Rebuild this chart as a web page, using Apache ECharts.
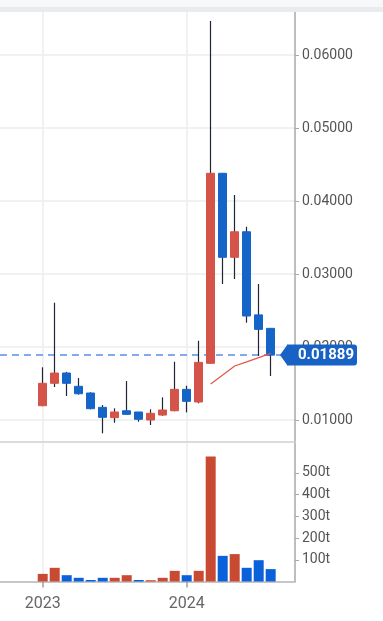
<!DOCTYPE html>
<html><head><meta charset="utf-8">
<script src="https://cdn.jsdelivr.net/npm/echarts@6/dist/echarts.min.js"></script>
<style>html,body{margin:0;padding:0;background:#fff}#c{width:383px;height:621px}</style>
</head><body><div id="c"></div>
<script>
// ---- data (monthly candles, Jan 2023 .. Aug 2024) ----
const months = ['2023-01','2023-02','2023-03','2023-04','2023-05','2023-06','2023-07','2023-08','2023-09','2023-10','2023-11','2023-12','2024-01','2024-02','2024-03','2024-04','2024-05','2024-06','2024-07','2024-08'];
const openV  = [0.01196,0.01503,0.01644,0.01462,0.01370,0.01174,0.01032,0.01127,0.01110,0.01000,0.01068,0.01127,0.01420,0.01247,0.01777,0.04380,0.03229,0.03579,0.02440,0.02256];
const closeV = [0.01503,0.01644,0.01503,0.01360,0.01155,0.01037,0.01110,0.01078,0.01010,0.01092,0.01137,0.01420,0.01256,0.01790,0.04380,0.03229,0.03579,0.02425,0.02242,0.01889];
const lowV   = [0.01190,0.01452,0.01329,0.01347,0.01147,0.00818,0.00963,0.01075,0.00977,0.00932,0.01059,0.01120,0.01105,0.01229,0.01770,0.02863,0.02932,0.02333,0.01877,0.01603];
const highV  = [0.01722,0.02607,0.01660,0.01575,0.01380,0.01205,0.01160,0.01534,0.01110,0.01147,0.01311,0.01799,0.01470,0.02086,0.06466,0.04380,0.04082,0.03648,0.02863,0.02256];
const maV    = [null,null,null,null,null,null,null,null,null,null,null,null,null,null,0.01493,0.01616,0.01740,0.01797,0.01855,0.01913];
const volume = [35,63,29,17,7,17,17,29,7,6,17,49,29,49,575,118,126,63,98,57]; // thousands (t)
const volUp  = [true,true,false,false,false,false,true,true,false,true,true,true,false,true,true,false,true,false,false,false];
const priceTicks = [0.01,0.02,0.03,0.04,0.05,0.06];
const volTicks = [100,200,300,400,500];
const yearLabels = ['2023','2024'];
const yearPos = [0,12]; // month index of January
const lastClose = 0.01889;

const RED='#d4544a', BLUE='#1565c8', VRED='#c94a32', VBLUE='#0b61d9', WICK='#1e2636';
const FONT='Roboto';
const xMin=-3.559, xMax=21.026;

const wickData = months.map((m,i)=>[i, openV[i], closeV[i], lowV[i], highV[i]]);
const bodyData = months.map((m,i)=>[i, openV[i], closeV[i], Math.min(openV[i],closeV[i]), Math.max(openV[i],closeV[i])]);
const maData = maV.map((v,i)=>v==null?null:[i,v]).filter(d=>d);
const volData = volume.map((v,i)=>({value:[i,v], itemStyle:{color: volUp[i]?VRED:VBLUE}}));
const lastLine = [[xMin,lastClose],[xMax,lastClose]];

const chart = echarts.init(document.getElementById('c'), null, {renderer:'canvas'});
const splitStyle = {color:'#ececec', width:1.5};
chart.setOption({
  animation:false,
  backgroundColor:'#ffffff',
  grid:[{left:0,right:88,top:12,height:430},{left:0,right:88,top:443,height:138.5}],
  xAxis:[
    {type:'value',gridIndex:0,min:xMin,max:xMax,
     axisLine:{show:true,onZero:false,lineStyle:{color:'#d0d0d0',width:1.5}},
     axisTick:{show:false,customValues:yearPos},axisLabel:{show:false},
     splitLine:{show:true,lineStyle:splitStyle}},
    {type:'value',gridIndex:1,min:xMin,max:xMax,
     axisLine:{show:true,onZero:false,lineStyle:{color:'#b5b5b5',width:1.5}},
     axisTick:{show:true,customValues:yearPos,length:6,lineStyle:{color:'#a0a0a0',width:1.5}},
     axisLabel:{customValues:yearPos,formatter:v=>yearLabels[yearPos.indexOf(v)]||'',fontSize:16,color:'#666',margin:14,fontFamily:FONT},
     splitLine:{show:true,lineStyle:splitStyle}}
  ],
  yAxis:[
    {type:'value',gridIndex:0,position:'right',min:0.00699,max:0.06589,
     axisLine:{show:true,onZero:false,lineStyle:{color:'#a8a8a8',width:1.5}},
     axisTick:{show:true,customValues:priceTicks,length:4,lineStyle:{color:'#a8a8a8'}},
     axisLabel:{customValues:priceTicks,formatter:v=>v.toFixed(5),fontSize:14,color:'#555',margin:7,fontFamily:FONT},
     splitLine:{show:true,lineStyle:splitStyle}},
    {type:'value',gridIndex:1,position:'right',min:0,max:637,
     axisLine:{show:true,onZero:false,lineStyle:{color:'#a8a8a8',width:1.5}},
     axisTick:{show:true,customValues:volTicks,length:4,lineStyle:{color:'#a8a8a8'}},
     axisLabel:{customValues:volTicks,formatter:v=>v+'t',fontSize:14,color:'#555',margin:7,fontFamily:FONT},
     splitLine:{show:false}}
  ],
  series:[
    {type:'line',name:'last',xAxisIndex:0,yAxisIndex:0,data:lastLine,showSymbol:false,silent:true,z:1,
     lineStyle:{color:'#5b8fe8',type:[7,5],width:1.5}},
    {type:'candlestick',name:'wick',xAxisIndex:0,yAxisIndex:0,data:wickData,encode:{x:0,y:[1,2,3,4]},
     barWidth:1.2,z:2,
     itemStyle:{color:WICK,color0:WICK,borderColor:WICK,borderColor0:WICK,borderWidth:1.2}},
    {type:'candlestick',name:'body',xAxisIndex:0,yAxisIndex:0,data:bodyData,encode:{x:0,y:[1,2,3,4]},
     barWidth:8,z:3,
     itemStyle:{color:RED,color0:BLUE,borderColor:RED,borderColor0:BLUE,borderWidth:1}},
    {type:'line',name:'MA',xAxisIndex:0,yAxisIndex:0,data:maData,showSymbol:false,z:4,
     lineStyle:{color:'#e0574a',width:1.2}},
    {type:'bar',name:'vol',xAxisIndex:1,yAxisIndex:1,data:volData,barWidth:10}
  ]
});

const cy = chart.convertToPixel({yAxisIndex:0}, lastClose);
const axX = chart.convertToPixel({xAxisIndex:0}, xMax);
const tipX = axX - 15;
const BADGE='#1862c6';
chart.setOption({graphic:[
  {type:'rect',shape:{x:0,y:0,width:383,height:7},style:{fill:'#f7f8fa'},z:100},
  {type:'rect',shape:{x:0,y:7,width:383,height:5},style:{fill:'#e9ebef'},z:100},
  {type:'polygon',shape:{points:[[tipX,cy],[tipX+7.5,cy-10.5],[tipX+7.5,cy+10.5]]},style:{fill:BADGE},z:100},
  {type:'rect',shape:{x:tipX+7,y:cy-10.5,width:70,height:21,r:[0,3,3,0]},style:{fill:BADGE},z:100},
  {type:'text',x:tipX+46,y:cy,style:{text:lastClose.toFixed(5),fill:'#fff',font:'bold 15px Roboto',align:'center',verticalAlign:'middle'},z:101}
]});
</script>
</body></html>
